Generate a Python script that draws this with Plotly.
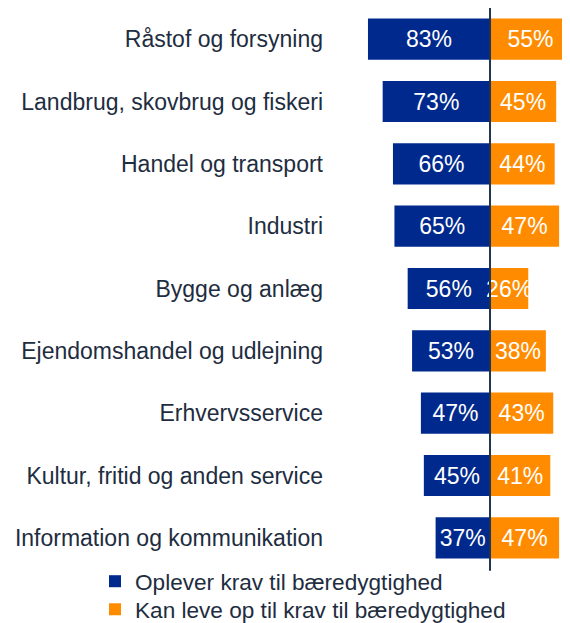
import plotly.graph_objects as go

categories = [
    "Råstof og forsyning",
    "Landbrug, skovbrug og fiskeri",
    "Handel og transport",
    "Industri",
    "Bygge og anlæg",
    "Ejendomshandel og udlejning",
    "Erhvervsservice",
    "Kultur, fritid og anden service",
    "Information og kommunikation",
]
oplever = [83, 73, 66, 65, 56, 53, 47, 45, 37]
kan_leve = [55, 45, 44, 47, 26, 38, 43, 41, 47]
series_names = ["Oplever krav til bæredygtighed", "Kan leve op til krav til bæredygtighed"]

BLUE = "#00298d"
ORANGE = "#ff8c00"
TEXT = "#1e2d40"
FONT = "Liberation Sans, Arial, sans-serif"

fig = go.Figure()
fig.add_trace(go.Bar(
    y=categories, x=[-v / 100 for v in oplever], orientation="h",
    name=series_names[0], marker=dict(color=BLUE, line=dict(width=0)),
    text=[f"{v}%" for v in oplever], textposition="inside",
    insidetextanchor="middle", textangle=0, constraintext="none",
    textfont=dict(color="white", size=23, family=FONT),
    legend="legend",
))
fig.add_trace(go.Bar(
    y=categories, x=[v / 100 for v in kan_leve], orientation="h",
    name=series_names[1], marker=dict(color=ORANGE, line=dict(width=0)),
    text=[f"{v}%" for v in kan_leve], textposition="inside",
    insidetextanchor="middle", textangle=0, constraintext="none",
    textfont=dict(color="white", size=23, family=FONT),
    legend="legend2",
))

fig.add_shape(type="line", xref="x", yref="paper", x0=0, x1=0, y0=-0.003, y1=1.0,
              line=dict(color="#1f3550", width=2), layer="above")

legend_common = dict(
    xanchor="left", yanchor="top", orientation="v",
    font=dict(size=22.6, color=TEXT, family=FONT),
    itemwidth=30, bgcolor="rgba(0,0,0,0)",
)

fig.update_layout(
    template="none",
    width=562, height=615,
    margin=dict(l=326, r=0, t=0, b=54, autoexpand=False),
    paper_bgcolor="white", plot_bgcolor="white",
    barmode="relative", bargap=0.34,
    font=dict(family=FONT, size=23, color=TEXT),
    showlegend=True,
    legend=dict(x=-1.0127, y=0.016, **legend_common),
    legend2=dict(x=-1.0127, y=-0.034, **legend_common),
    xaxis=dict(range=[-1.061, 0.544], visible=False, fixedrange=True, automargin=False),
    yaxis=dict(autorange="reversed", showgrid=False, zeroline=False, showline=False,
               automargin=False, ticks="", ticklabelstandoff=10,
               tickfont=dict(size=23, color=TEXT, family=FONT)),
)

fig.write_html("out.html")
